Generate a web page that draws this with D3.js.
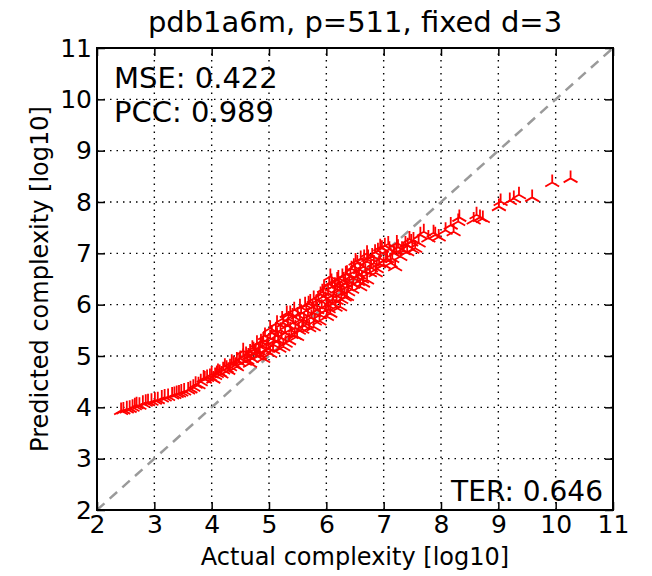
<!DOCTYPE html>
<html>
<head>
<meta charset="utf-8">
<script src="https://cdn.jsdelivr.net/npm/d3@7"></script>
<style>
  body { margin: 0; background: #fff; }
  svg text { font-family: "DejaVu Sans", sans-serif; fill: #000; }
</style>
</head>
<body>
<div class="graph"></div>
<script>
// [actual, predicted] pairs (log10 complexity)
const tailLow = [
  [2.42, 3.94], [2.46, 3.95], [2.52, 3.97], [2.57, 3.98], [2.62, 4.00], [2.66, 4.03], [2.69, 4.05],
  [2.74, 4.04], [2.80, 4.08], [2.85, 4.10], [2.89, 4.11], [2.95, 4.12], [3.01, 4.14], [3.06, 4.15],
  [3.13, 4.18], [3.18, 4.20], [3.24, 4.21], [3.31, 4.24], [3.35, 4.25], [3.39, 4.27], [3.43, 4.28],
  [3.47, 4.30], [3.52, 4.32], [3.59, 4.34], [3.63, 4.36], [3.68, 4.39], [3.72, 4.45], [3.77, 4.44],
  [3.81, 4.50], [3.86, 4.57], [3.88, 4.55], [3.92, 4.58], [3.97, 4.60], [4.00, 4.65], [4.03, 4.55],
  [4.06, 4.62], [4.09, 4.66], [4.11, 4.70], [4.14, 4.68], [4.17, 4.65], [4.20, 4.73], [4.23, 4.80],
  [4.26, 4.76], [4.29, 4.72], [4.32, 4.79], [4.35, 4.88], [4.38, 4.85], [4.41, 4.82], [4.44, 4.92],
  [4.44, 4.79]
];
const band = [
  [4.48, 4.88], [4.50, 4.95], [4.55, 4.99], [4.55, 5.10], [4.58, 4.90], [4.60, 5.03], [4.62, 4.92],
  [4.64, 5.00], [4.67, 4.86], [4.67, 5.08], [4.70, 4.95], [4.71, 5.15], [4.73, 5.12], [4.75, 5.05],
  [4.77, 5.08], [4.79, 5.00], [4.79, 5.25], [4.82, 5.10], [4.84, 5.02], [4.85, 5.18], [4.86, 5.28],
  [4.88, 5.20], [4.90, 4.95], [4.90, 5.31], [4.93, 5.40], [4.95, 5.10], [4.97, 5.25], [4.99, 5.15],
  [5.02, 5.05], [5.02, 5.35], [5.02, 5.54], [5.05, 5.45], [5.07, 5.12], [5.08, 5.22], [5.10, 5.30],
  [5.12, 5.50], [5.14, 5.64], [5.14, 5.40], [5.16, 5.30], [5.18, 5.15], [5.20, 5.50], [5.22, 5.35],
  [5.23, 5.72], [5.25, 5.18], [5.25, 5.64], [5.28, 5.45], [5.29, 5.25], [5.31, 5.83], [5.33, 5.60],
  [5.34, 5.72], [5.35, 5.30], [5.37, 5.51], [5.37, 5.83], [5.39, 5.42], [5.41, 5.78], [5.42, 5.65],
  [5.44, 5.90], [5.45, 5.40], [5.46, 5.55], [5.49, 5.38], [5.50, 5.80], [5.52, 5.50], [5.54, 5.96],
  [5.54, 5.70], [5.56, 5.85], [5.58, 5.52], [5.60, 5.60], [5.61, 5.70], [5.63, 6.00], [5.65, 5.88],
  [5.66, 5.62], [5.68, 5.78], [5.69, 6.02], [5.70, 5.55], [5.72, 6.05], [5.74, 5.75], [5.76, 5.95],
  [5.78, 5.57], [5.78, 5.84], [5.78, 6.12], [5.80, 5.68], [5.82, 6.00], [5.84, 5.90], [5.86, 6.10],
  [5.88, 5.68], [5.89, 5.80], [5.90, 6.20], [5.92, 5.95], [5.93, 6.25], [5.95, 6.16], [5.96, 6.32],
  [5.98, 5.88], [5.99, 6.10], [6.01, 5.77], [6.01, 6.00], [6.03, 6.22], [6.04, 5.92], [6.05, 6.40],
  [6.07, 5.83], [6.07, 6.55], [6.09, 6.45], [6.10, 6.35], [6.11, 6.02], [6.12, 6.10], [6.14, 6.20],
  [6.15, 6.38], [6.16, 5.95], [6.18, 6.08], [6.19, 6.48], [6.19, 6.30], [6.21, 6.52], [6.22, 6.40],
  [6.24, 5.96], [6.24, 6.29], [6.26, 6.10], [6.27, 6.22], [6.28, 6.55], [6.30, 6.48], [6.32, 6.15],
  [6.33, 6.42], [6.34, 6.60], [6.36, 6.16], [6.36, 6.35], [6.36, 6.61], [6.38, 6.25], [6.40, 6.45],
  [6.42, 6.55], [6.44, 6.70], [6.45, 6.30], [6.47, 6.40], [6.48, 6.75], [6.50, 6.65], [6.51, 6.85],
  [6.52, 6.55], [6.54, 6.81], [6.55, 6.45], [6.57, 6.58], [6.59, 6.35], [6.59, 6.68], [6.60, 6.90],
  [6.62, 6.50], [6.64, 6.42], [6.65, 6.74], [6.66, 6.92], [6.68, 6.65], [6.71, 6.84], [6.71, 6.48],
  [6.71, 7.00], [6.73, 6.92], [6.76, 6.62], [6.78, 6.72], [6.80, 6.95], [6.83, 6.81], [6.85, 7.02],
  [6.86, 6.62], [6.88, 6.70], [6.90, 7.05], [6.92, 6.80], [6.94, 6.90], [6.94, 7.13], [6.97, 7.10],
  [7.00, 6.78], [7.02, 7.15], [7.04, 6.88], [7.06, 6.90], [7.08, 7.18], [7.10, 7.08], [7.12, 6.81],
  [7.15, 6.90], [7.18, 7.00], [7.20, 6.74], [7.22, 7.05], [7.23, 7.20], [7.25, 7.12], [7.29, 6.94],
  [7.32, 7.08], [7.35, 7.05], [7.38, 7.18], [7.41, 7.03], [7.42, 7.15], [7.45, 7.28], [7.48, 7.22],
  [7.50, 7.08], [7.52, 7.26], [7.55, 7.10]
];
const tailHigh = [
  [7.61, 7.20], [7.64, 7.36], [7.70, 7.42], [7.78, 7.30], [7.87, 7.40], [7.90, 7.36], [7.96, 7.32],
  [8.08, 7.45], [8.17, 7.55], [8.22, 7.42], [8.30, 7.62], [8.32, 7.70], [8.57, 7.65], [8.62, 7.75],
  [8.68, 7.70], [8.73, 7.68], [9.01, 7.91], [9.04, 8.01], [9.20, 8.03], [9.27, 8.07], [9.36, 8.14],
  [9.59, 8.09], [9.94, 8.38], [10.26, 8.46]
];
const ticks = [2, 3, 4, 5, 6, 7, 8, 9, 10, 11];
const title = "pdb1a6m, p=511, fixed d=3";
const stats = ["MSE: 0.422", "PCC: 0.989"];
const terText = "TER: 0.646";

const points = tailLow.concat(band, tailHigh);

const width = 652, height = 576;
const margin = ({top: 48, right: 39, bottom: 66, left: 97});

const x = d3.scaleLinear().domain([2, 11]).range([margin.left, width - margin.right]);
const y = d3.scaleLinear().domain([2, 11]).range([height - margin.bottom, margin.top]);

const svg = d3.select(".graph").append("svg")
  .attr("width", width)
  .attr("height", height);

// dotted grid
svg.append("g")
  .selectAll("line")
  .data(ticks.slice(1, -1))
  .join("line")
  .attr("x1", d => x(d)).attr("x2", d => x(d))
  .attr("y1", y(2)).attr("y2", y(11))
  .attr("stroke", "#000").attr("stroke-width", 1.4)
  .attr("stroke-dasharray", "1.5,5");
svg.append("g")
  .selectAll("line")
  .data(ticks.slice(1, -1))
  .join("line")
  .attr("y1", d => y(d)).attr("y2", d => y(d))
  .attr("x1", x(2)).attr("x2", x(11))
  .attr("stroke", "#000").attr("stroke-width", 1.4)
  .attr("stroke-dasharray", "1.5,5");

// y = x reference
svg.append("line")
  .attr("x1", x(2)).attr("y1", y(2))
  .attr("x2", x(11)).attr("y2", y(11))
  .attr("stroke", "#9a9a9a").attr("stroke-width", 2.5)
  .attr("stroke-dasharray", "10,7");

// tri_up markers
const r = 8;
const tri = `M0,0L0,${-r}M0,0L${r * 0.866},${r / 2}M0,0L${-r * 0.866},${r / 2}`;
svg.append("g")
  .selectAll("path")
  .data(points)
  .join("path")
  .attr("transform", d => `translate(${x(d[0])},${y(d[1])})`)
  .attr("d", tri)
  .attr("fill", "none")
  .attr("stroke", "#ff0000")
  .attr("stroke-width", 1.8);

// axes, ticks inward on every side
const xAxis = g => g
  .attr("transform", `translate(0,${y(2)})`)
  .call(d3.axisBottom(x).tickValues(ticks).tickFormat(d3.format("d")).tickSizeInner(-8).tickSizeOuter(0).tickPadding(5));
const yAxis = g => g
  .attr("transform", `translate(${x(2)},0)`)
  .call(d3.axisLeft(y).tickValues(ticks).tickFormat(d3.format("d")).tickSizeInner(-8).tickSizeOuter(0).tickPadding(5));
const xTop = g => g
  .attr("transform", `translate(0,${y(11)})`)
  .call(d3.axisTop(x).tickValues(ticks).tickFormat("").tickSizeInner(-8).tickSizeOuter(0));
const yRight = g => g
  .attr("transform", `translate(${x(11)},0)`)
  .call(d3.axisRight(y).tickValues(ticks).tickFormat("").tickSizeInner(-8).tickSizeOuter(0));

[xAxis, yAxis, xTop, yRight].forEach(a => {
  const g = svg.append("g").call(a);
  g.select(".domain").remove();
  g.selectAll(".tick line").attr("stroke", "#000").attr("stroke-width", 1.5);
  g.selectAll(".tick text").style("font-size", "25px").attr("fill", "#000");
});

// frame
svg.append("rect")
  .attr("x", x(2)).attr("y", y(11))
  .attr("width", x(11) - x(2)).attr("height", y(2) - y(11))
  .attr("fill", "none").attr("stroke", "#000").attr("stroke-width", 2);

// labels
svg.append("text")
  .attr("x", (x(2) + x(11)) / 2).attr("y", 32)
  .attr("text-anchor", "middle")
  .style("font-size", "29px")
  .text(title);

svg.append("text")
  .attr("x", (x(2) + x(11)) / 2).attr("y", 565)
  .attr("text-anchor", "middle")
  .style("font-size", "24px")
  .text("Actual complexity [log10]");

svg.append("text")
  .attr("transform", `translate(48,${(y(2) + y(11)) / 2}) rotate(-90)`)
  .attr("text-anchor", "middle")
  .style("font-size", "24px")
  .text("Predicted complexity [log10]");

svg.append("g")
  .selectAll("text")
  .data(stats)
  .join("text")
  .attr("x", 114)
  .attr("y", (d, i) => 88 + i * 34)
  .style("font-size", "29px")
  .text(d => d);

svg.append("text")
  .attr("x", 603).attr("y", 501)
  .attr("text-anchor", "end")
  .style("font-size", "28px")
  .text(terText);
</script>
</body>
</html>
